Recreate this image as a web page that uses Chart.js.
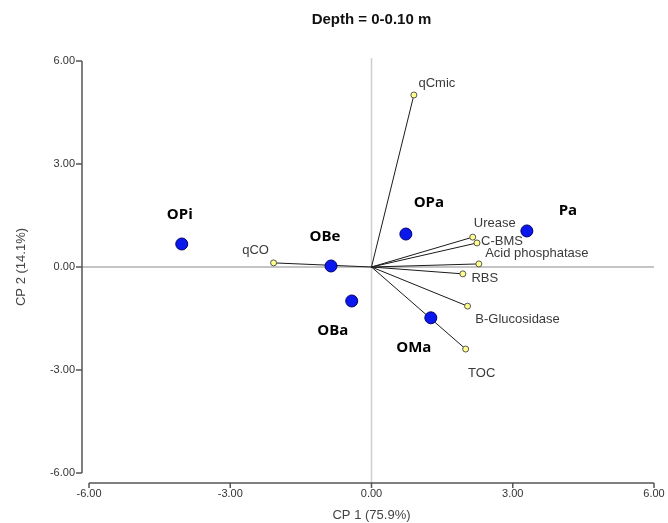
<!DOCTYPE html>
<html>
<head>
<meta charset="utf-8">
<script src="https://cdn.jsdelivr.net/npm/chart.js@4"></script>
<style>
  html, body { margin: 0; padding: 0; background: #fff; }
  #wrap { width: 668px; height: 523px; }
</style>
</head>
<body>
<div id="wrap"><canvas id="pca"></canvas></div>
<script>
// scores of the samples (CP1, CP2)
const sampleNames = ['OPi', 'OBe', 'OBa', 'OPa', 'Pa', 'OMa'];
const sampleX = [-4.03, -0.86, -0.42, 0.73, 3.30, 1.26];
const sampleY = [0.67, 0.03, -0.99, 0.96, 1.05, -1.48];

// loadings of the variables
const varNames = ['qCmic', 'Urease', 'C-BMS', 'Acid phosphatase', 'RBS', 'B-Glucosidase', 'TOC', 'qCO'];
const varX = [0.90, 2.15, 2.24, 2.28, 1.94, 2.04, 2.00, -2.08];
const varY = [5.01, 0.87, 0.70, 0.09, -0.20, -1.14, -2.39, 0.12];

const axisMin = -6;
const axisMax = 6;
const axisStep = 3;

// where each label sits relative to its point (pixels, text centre)
const labelOffset = {
  OPi: [-2, -29], OBe: [-6, -29], OBa: [-19, 30], OPa: [23, -31], Pa: [41, -20], OMa: [-17, 30],
  qCmic: [23, -12], Urease: [22, -14], 'C-BMS': [25, -2], 'Acid phosphatase': [58, -10],
  RBS: [22, 5], 'B-Glucosidase': [50, 13], TOC: [16, 24], qCO: [-18, -12]
};

const vectorLines = varNames.map((n, i) => ({
  type: 'scatter',
  label: n,
  showLine: true,
  data: [{ x: 0, y: 0 }, { x: varX[i], y: varY[i] }],
  borderColor: '#1a1a1a',
  borderWidth: 1,
  pointRadius: 0,
  order: 3
}));

const decor = {
  id: 'decor',
  beforeDatasetsDraw(chart) {
    const { ctx, chartArea: a, scales: { x, y } } = chart;
    const x0 = x.getPixelForValue(0);
    const y0 = y.getPixelForValue(0);
    const axX = a.left - 7;   // detached y axis
    const axY = a.bottom + 10; // detached x axis
    ctx.save();
    // zero lines
    ctx.strokeStyle = '#cfcfcf';
    ctx.lineWidth = 1.5;
    ctx.beginPath();
    ctx.moveTo(x0, a.top - 3);
    ctx.lineTo(x0, axY);
    ctx.stroke();
    ctx.strokeStyle = '#8a8a8a';
    ctx.lineWidth = 1;
    ctx.beginPath();
    ctx.moveTo(axX, y0);
    ctx.lineTo(a.right, y0);
    ctx.stroke();
    // axes
    ctx.strokeStyle = '#555';
    ctx.lineWidth = 1.5;
    ctx.beginPath();
    ctx.moveTo(axX, y.getPixelForValue(axisMax));
    ctx.lineTo(axX, y.getPixelForValue(axisMin));
    y.ticks.forEach(t => {
      const py = y.getPixelForValue(t.value);
      ctx.moveTo(axX - 6, py);
      ctx.lineTo(axX, py);
    });
    ctx.moveTo(x.getPixelForValue(axisMin), axY);
    ctx.lineTo(x.getPixelForValue(axisMax), axY);
    x.ticks.forEach(t => {
      const px = x.getPixelForValue(t.value);
      ctx.moveTo(px, axY);
      ctx.lineTo(px, axY + 5);
    });
    ctx.stroke();
    ctx.restore();
  },
  afterDatasetsDraw(chart) {
    const { ctx, scales: { x, y } } = chart;
    ctx.save();
    ctx.textAlign = 'center';
    ctx.textBaseline = 'middle';
    ctx.font = 'bold 15px "Open Sans", sans-serif';
    ctx.fillStyle = '#000';
    sampleNames.forEach((n, i) => {
      const o = labelOffset[n];
      ctx.fillText(n, x.getPixelForValue(sampleX[i]) + o[0], y.getPixelForValue(sampleY[i]) + o[1]);
    });
    ctx.font = '13px "Liberation Sans", Arial, sans-serif';
    ctx.fillStyle = '#3a3a3a';
    varNames.forEach((n, i) => {
      const o = labelOffset[n];
      ctx.fillText(n, x.getPixelForValue(varX[i]) + o[0], y.getPixelForValue(varY[i]) + o[1]);
    });
    ctx.restore();
  }
};

const tickFmt = v => Number(v).toFixed(2);

new Chart(document.getElementById('pca'), {
  type: 'scatter',
  data: {
    datasets: [
      {
        label: 'samples',
        data: sampleX.map((v, i) => ({ x: v, y: sampleY[i] })),
        pointRadius: 6,
        pointBackgroundColor: '#0a18ee',
        pointBorderColor: '#00006e',
        pointBorderWidth: 1,
        order: 0
      },
      {
        label: 'variables',
        data: varX.map((v, i) => ({ x: v, y: varY[i] })),
        pointRadius: 3,
        pointBackgroundColor: '#ffff8a',
        pointBorderColor: '#555',
        pointBorderWidth: 1,
        order: 1
      },
      ...vectorLines
    ]
  },
  options: {
    responsive: true,
    maintainAspectRatio: false,
    animation: false,
    layout: { padding: 0 },
    plugins: {
      legend: { display: false },
      tooltip: { enabled: false },
      title: {
        display: true,
        fullSize: false,
        text: 'Depth = 0-0.10 m',
        color: '#111',
        font: { family: '"Liberation Sans", Arial, sans-serif', size: 15, weight: 'bold' },
        padding: { top: 11, bottom: 32 }
      }
    },
    scales: {
      x: {
        type: 'linear',
        min: axisMin,
        max: axisMax,
        grid: { display: false, drawTicks: false },
        border: { display: false },
        ticks: {
          stepSize: axisStep,
          callback: tickFmt,
          padding: 14,
          color: '#333',
          font: { family: '"Liberation Sans", Arial, sans-serif', size: 11 }
        },
        title: {
          display: true,
          text: 'CP 1 (75.9%)',
          color: '#444',
          font: { family: '"Liberation Sans", Arial, sans-serif', size: 13 },
          padding: { top: 0, bottom: 0 }
        },
        afterFit(s) {
          s.height = 50;
          s.paddingLeft = 0;
          s.paddingRight = 14;
        }
      },
      y: {
        type: 'linear',
        min: axisMin,
        max: axisMax,
        grid: { display: false, drawTicks: false },
        border: { display: false },
        ticks: {
          stepSize: axisStep,
          callback: tickFmt,
          padding: 14,
          color: '#333',
          font: { family: '"Liberation Sans", Arial, sans-serif', size: 11 }
        },
        title: {
          display: true,
          text: 'CP 2 (14.1%)',
          color: '#444',
          font: { family: '"Liberation Sans", Arial, sans-serif', size: 13 },
          padding: { top: 14, bottom: 0 }
        },
        afterFit(s) { s.width = 89; }
      }
    }
  },
  plugins: [decor]
});
</script>
</body>
</html>
